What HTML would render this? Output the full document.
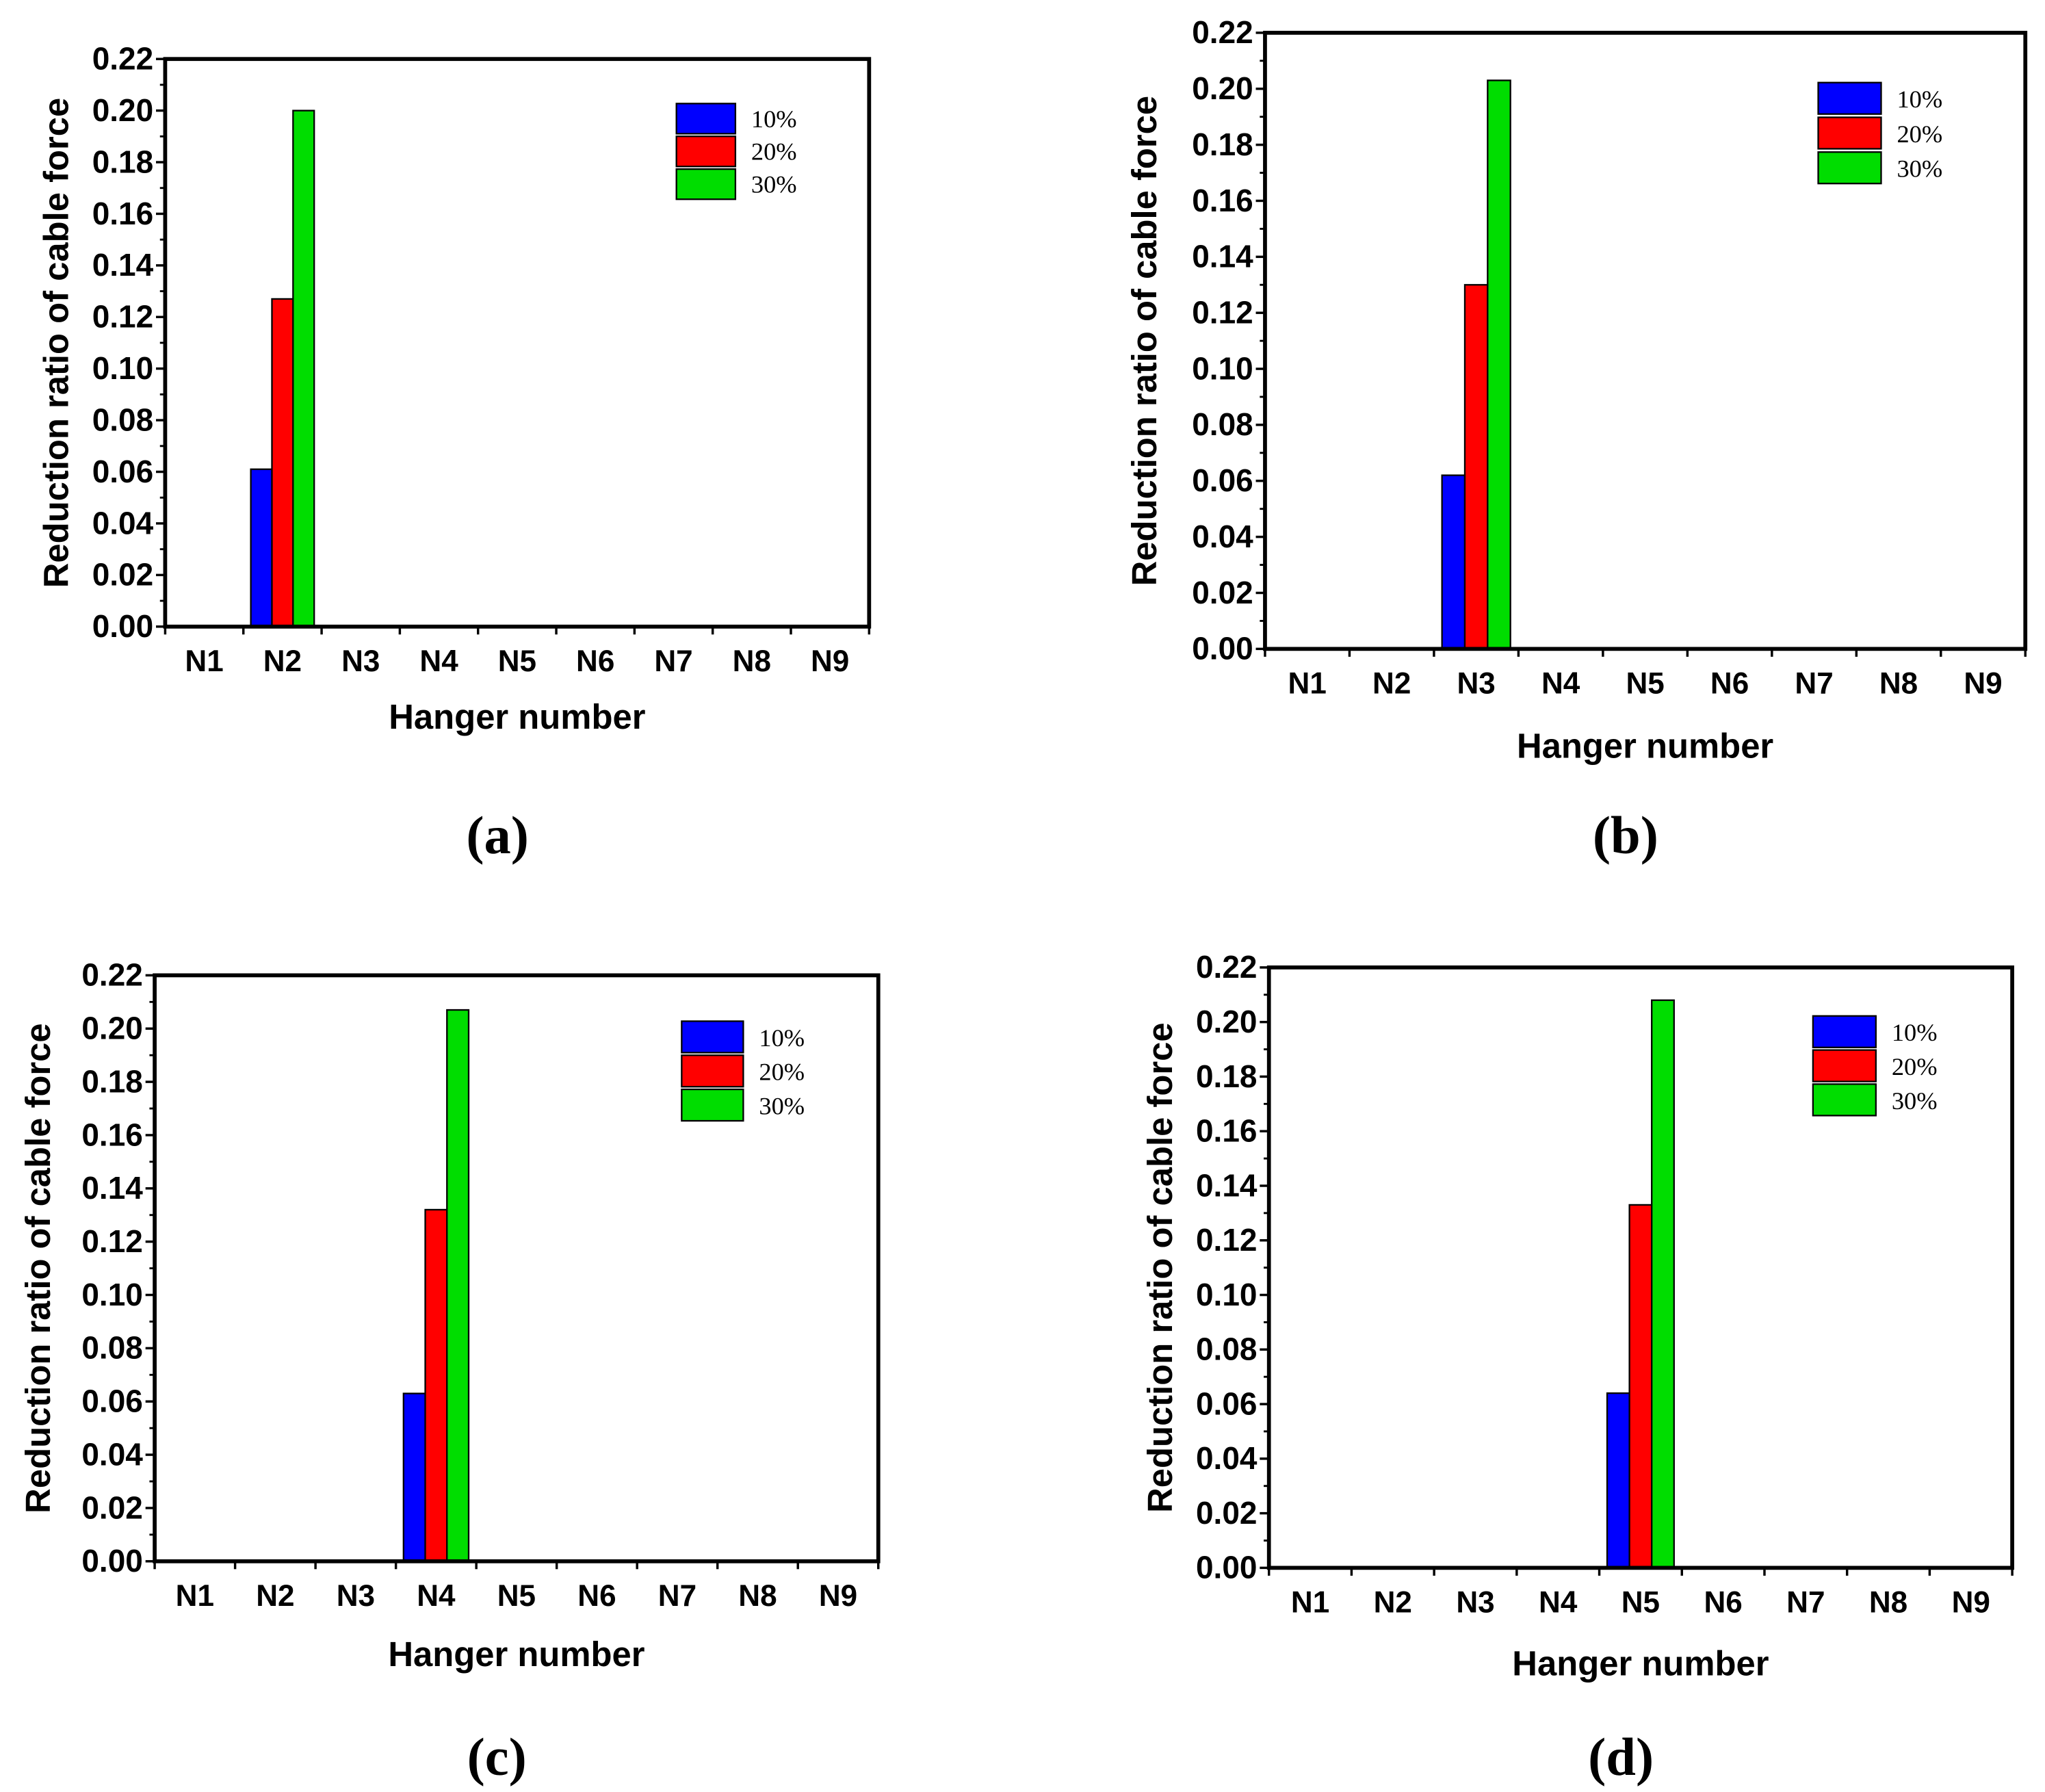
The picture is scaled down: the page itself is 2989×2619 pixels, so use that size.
<!DOCTYPE html>
<html><head><meta charset="utf-8"><style>
html,body{margin:0;padding:0;background:#fff}
svg{display:block}
</style></head><body>
<svg id="fig" xmlns="http://www.w3.org/2000/svg" width="2989" height="2619" viewBox="0 0 1560 1367" preserveAspectRatio="none"></svg>
<script>
const categories = ["N1","N2","N3","N4","N5","N6","N7","N8","N9"];
const seriesNames = ["10%","20%","30%"];
const seriesColors = ["#0000ff","#ff0000","#00dd00"];
const yTicks = [0,0.02,0.04,0.06,0.08,0.10,0.12,0.14,0.16,0.18,0.20,0.22];
const yTickLabels = ["0.00","0.02","0.04","0.06","0.08","0.10","0.12","0.14","0.16","0.18","0.20","0.22"];
const panelLabels = ["(a)","(b)","(c)","(d)"];
const damagedIndex = [1,2,3,4];
const values10 = [0.061,0.062,0.063,0.064];
const values20 = [0.127,0.130,0.132,0.133];
const values30 = [0.200,0.203,0.207,0.208];
const panels = [
 {L:126,R:663,T:45,B:478,legX:516,legY:79,legW:45,legH:23,legGap:25,ylabX:42,xtitY:547,plY:637},
 {L:965,R:1545,T:25,B:495,legX:1387,legY:63,legW:48,legH:24,legGap:26.5,ylabX:872,xtitY:569,plY:637},
 {L:118,R:670,T:744,B:1191,legX:520,legY:779,legW:47,legH:24,legGap:26,ylabX:28,xtitY:1262,plY:1340},
 {L:968,R:1535,T:738,B:1196,legX:1383,legY:775,legW:48,legH:24,legGap:26,ylabX:884,xtitY:1269,plY:1340}
];
const NS="http://www.w3.org/2000/svg";
const svg=document.getElementById('fig');
function mk(tag,attrs,parent){const e=document.createElementNS(NS,tag);for(const k in attrs)e.setAttribute(k,attrs[k]);(parent||svg).appendChild(e);return e;}
panels.forEach((p,pi)=>{
 const g=mk('g',{});
 
 
 const ymax=0.22;
 const ys=v=>p.B-(v/ymax)*(p.B-p.T);
 const cw=(p.R-p.L)/categories.length;
 const xc=i=>p.L+(i+0.5)*cw;
 const bw=cw*0.27;
 const vals=[values10[pi],values20[pi],values30[pi]];
 vals.forEach((v,s)=>{
  const x=xc(damagedIndex[pi])-1.5*bw+s*bw;
  const r=mk('rect',{x:x,y:ys(v),width:bw,height:ys(0)-ys(v),fill:seriesColors[s],stroke:'#000','stroke-width':1.2},g);
  
  
 });
 const fr=mk('rect',{x:p.L,y:p.T,width:p.R-p.L,height:p.B-p.T,fill:'none',stroke:'#000','stroke-width':3},g);
 
 
 yTicks.forEach((t,i)=>{
  mk('line',{x1:p.L-7,x2:p.L,y1:ys(t),y2:ys(t),stroke:'#000','stroke-width':1.8},g);
  if(i<yTicks.length-1){const m=(t+yTicks[i+1])/2;mk('line',{x1:p.L-4,x2:p.L,y1:ys(m),y2:ys(m),stroke:'#000','stroke-width':1.5},g);}
  const tx=mk('text',{x:p.L-9,y:ys(t)+8,'text-anchor':'end','font-family':'Liberation Sans, sans-serif','font-weight':'bold','font-size':24},g);
  tx.textContent=yTickLabels[i];
  
  
 });
 for(let i=0;i<=categories.length;i++){mk('line',{x1:p.L+i*cw,x2:p.L+i*cw,y1:p.B,y2:p.B+6,stroke:'#000','stroke-width':1.8},g);}
 categories.forEach((c,i)=>{
  const tx=mk('text',{x:xc(i),y:p.B+34,'text-anchor':'middle','font-family':'Liberation Sans, sans-serif','font-weight':'bold','font-size':23},g);
  tx.textContent=c;
  
  
 });
 const xt=mk('text',{x:(p.L+p.R)/2,y:p.xtitY+9,'text-anchor':'middle','font-family':'Liberation Sans, sans-serif','font-weight':'bold','font-size':26.5},g);
 xt.textContent='Hanger number';
 
 
 const ycy=(p.T+p.B)/2;
 const yt=mk('text',{x:p.ylabX+10,y:ycy,'text-anchor':'middle','font-family':'Liberation Sans, sans-serif','font-weight':'bold','font-size':26.5,transform:'rotate(-90 '+(p.ylabX+10)+' '+ycy+')'},g);
 yt.textContent='Reduction ratio of cable force';
 
 
 seriesNames.forEach((n,s)=>{
  const y=p.legY+s*p.legGap;
  const sw=mk('rect',{x:p.legX,y:y,width:p.legW,height:p.legH,fill:seriesColors[s],stroke:'#000','stroke-width':1.2},g);
  
  
  const lt=mk('text',{x:p.legX+p.legW+12,y:y+p.legH-5,'font-family':'Liberation Serif, serif','font-size':19},g);
  lt.textContent=n;
  
  
 });
 const pl=mk('text',{x:(p.L+p.R)/2-15,y:p.plY+14,'text-anchor':'middle','font-family':'Liberation Serif, serif','font-size':41,'font-weight':'bold'},g);
 pl.textContent=panelLabels[pi];
 
 
});
</script>
</body></html>
